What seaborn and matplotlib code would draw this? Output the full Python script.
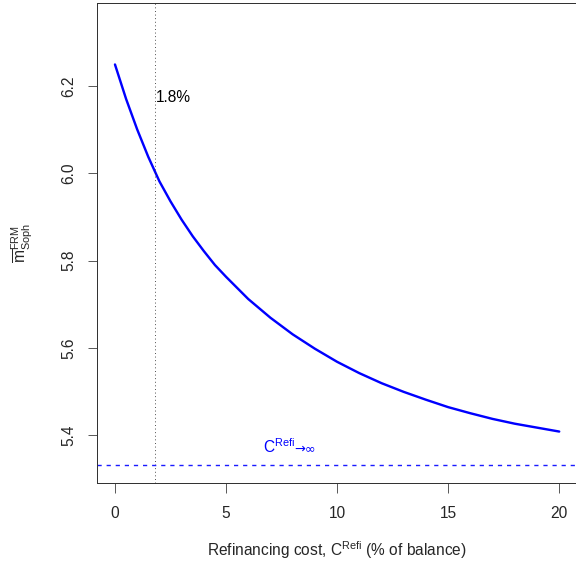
import matplotlib
matplotlib.use("Agg")
import matplotlib.pyplot as plt
import seaborn as sns
import pandas as pd

# Data
refi_cost = [0, 0.5, 1, 1.5, 2, 2.5, 3, 3.5, 4, 4.5, 5, 6, 7, 8, 9, 10,
             11, 12, 13, 14, 15, 16, 17, 18, 19, 20]
m_soph = [6.250, 6.171, 6.101, 6.038, 5.982, 5.936, 5.894, 5.856, 5.822, 5.790, 5.763,
          5.712, 5.669, 5.631, 5.598, 5.568, 5.542, 5.519, 5.499, 5.481, 5.464,
          5.450, 5.437, 5.426, 5.417, 5.408]
asymptote = 5.331
cutoff = 1.8
x_ticks = [0, 5, 10, 15, 20]
y_ticks = [5.4, 5.6, 5.8, 6.0, 6.2]

sns.set_theme(style="ticks")
plt.rcParams['font.family'] = ['Liberation Sans', 'DejaVu Sans']
plt.rcParams['mathtext.fontset'] = 'custom'
plt.rcParams['mathtext.rm'] = 'Liberation Sans'
plt.rcParams['mathtext.it'] = 'Liberation Sans:italic'

FS = 15.5
df = pd.DataFrame({"cost": refi_cost, "m": m_soph})

fig = plt.figure(figsize=(8, 563 / 72), dpi=72)
ax = fig.add_axes([97.2 / 576, 80 / 563, 479.8 / 576, 480 / 563])

sns.lineplot(data=df, x="cost", y="m", ax=ax, color="#0000ff", lw=2.4)
ax.axvline(cutoff, color="#333333", ls=(0, (1, 3)), lw=0.9)
ax.axhline(asymptote, color="#1a1aff", ls=(0, (3, 3.5)), lw=1.4)

ax.text(cutoff + 0.02, 6.175, "1.8%", fontsize=FS, ha="left", va="center", color="black")
ax.text(6.65, 5.373, r"$\mathrm{C}^{\mathrm{Refi}}$", fontsize=FS,
        ha="left", va="center", color="blue")
ax.text(8.05, 5.367, "\u2192\u221e", fontsize=13, ha="left", va="center", color="blue",
        family=['DejaVu Sans'])

ax.set_xlim(-0.8, 20.8)
ax.set_ylim(5.29, 6.391)
ax.set_xticks(x_ticks)
ax.set_xticklabels([str(t) for t in x_ticks])
ax.set_yticks(y_ticks)
ax.set_yticklabels([f"{t:.1f}" for t in y_ticks], rotation=90, va="center")
ax.tick_params(axis="both", direction="out", length=9.5, width=0.8, labelsize=FS,
               color="#333333")
ax.tick_params(axis="x", pad=13)
ax.tick_params(axis="y", pad=11)

ax.set_xlabel(r"Refinancing cost, $\mathrm{C}^{\mathrm{Refi}}$ (% of balance)", fontsize=FS, labelpad=19)
ax.set_ylabel(r"$\overline{\mathrm{m}}_{\mathrm{Soph}}^{\mathrm{FRM}}$", fontsize=FS, labelpad=27)

for s in ax.spines.values():
    s.set_visible(True)
    s.set_color("#333333")
    s.set_linewidth(1.0)
ax.grid(False)

fig.savefig("out.png", dpi=72)
